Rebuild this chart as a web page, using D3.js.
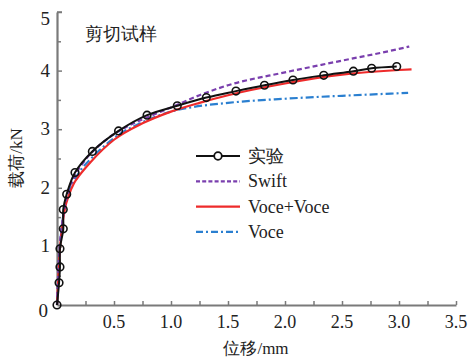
<!DOCTYPE html>
<html>
<head>
<meta charset="utf-8">
<script src="https://cdn.jsdelivr.net/npm/d3@7"></script>
<style>
  #chart text { font-family: "Liberation Serif", "Times New Roman", serif !important; }
</style>
</head>
<body style="margin:0;background:#fff">
<svg id="chart" width="469" height="359" style="display:block"></svg>
<script>
// Shear specimen: measured load–displacement vs. three hardening-law fits
const title = "剪切试样";
const xLabel = "位移/mm";
const yLabel = "载荷/kN";
const xTicks = [0.5, 1.0, 1.5, 2.0, 2.5, 3.0, 3.5];
const yTicks = [0, 1, 2, 3, 4, 5];

// Measured (实验) points: displacement (mm), load (kN)
const expX = [0, 0.018, 0.026, 0.026, 0.055, 0.055, 0.085, 0.158, 0.31, 0.54, 0.79, 1.055, 1.31, 1.57, 1.82, 2.07, 2.34, 2.60, 2.76, 2.98];
const expY = [0, 0.38, 0.65, 0.96, 1.30, 1.63, 1.89, 2.26, 2.62, 2.97, 3.24, 3.40, 3.54, 3.65, 3.75, 3.84, 3.92, 3.99, 4.04, 4.07];

// Swift fit
const swiftX = [0, 0.01, 0.02, 0.04, 0.07, 0.1, 0.15, 0.25, 0.4, 0.6, 0.8, 1.0, 1.25, 1.5, 2.0, 2.5, 3.0, 3.09];
const swiftY = [0, 0.5, 0.9, 1.3, 1.7, 1.95, 2.18, 2.48, 2.77, 3.03, 3.21, 3.37, 3.58, 3.75, 3.97, 4.17, 4.37, 4.41];

// Voce+Voce fit
const vvX = [0, 0.01, 0.02, 0.04, 0.07, 0.1, 0.15, 0.2, 0.3, 0.5, 0.75, 1.0, 1.25, 1.5, 2.0, 2.5, 3.0, 3.11];
const vvY = [0, 0.4, 0.8, 1.25, 1.65, 1.85, 2.08, 2.22, 2.45, 2.82, 3.1, 3.3, 3.45, 3.58, 3.78, 3.93, 4.01, 4.02];

// Voce fit
const voceX = [0, 0.01, 0.02, 0.04, 0.07, 0.1, 0.15, 0.2, 0.3, 0.5, 0.75, 1.0, 1.2, 1.5, 2.0, 2.5, 3.08];
const voceY = [0, 0.45, 0.85, 1.3, 1.7, 1.92, 2.12, 2.28, 2.5, 2.85, 3.12, 3.3, 3.38, 3.45, 3.52, 3.57, 3.62];

const legendNames = ["实验", "Swift", "Voce+Voce", "Voce"];

const TEXT = "#222";

const svg = d3.select("#chart");
const x = d3.scaleLinear().domain([0, 3.5]).range([57, 456]);
const y = d3.scaleLinear().domain([0, 5]).range([305, 12]);

const axisColor = "#7a7a7a";

function styleText(sel) {
  return sel.style("font-family", "\"Liberation Serif\", \"Times New Roman\", serif", "important").attr("fill", TEXT);
}

// x axis with inward ticks, minor ticks every 0.25
const gx = svg.append("g").attr("transform", `translate(0,${y(0)})`);
gx.call(d3.axisBottom(x).tickValues(d3.range(0.25, 3.51, 0.25)).tickSize(-4).tickFormat("").tickSizeOuter(0));
gx.attr("font-family", null).attr("font-size", null);
gx.select(".domain").attr("stroke", axisColor).attr("stroke-width", 2.2);
gx.selectAll(".tick line").attr("stroke", axisColor).attr("stroke-width", 1.5);
gx.selectAll(".tick text").remove();

// y axis with inward ticks, minor ticks every 0.5
const gy = svg.append("g").attr("transform", `translate(${x(0)},0)`);
gy.call(d3.axisLeft(y).tickValues(d3.range(0.5, 5.01, 0.5)).tickSize(-4).tickFormat("").tickSizeOuter(0));
gy.attr("font-family", null).attr("font-size", null);
gy.select(".domain").attr("stroke", axisColor).attr("stroke-width", 2.2);
gy.selectAll(".tick line").attr("stroke", axisColor).attr("stroke-width", 1.5)
  .attr("x2", d => (d % 1 === 0 ? 5 : 4));
gy.selectAll(".tick text").remove();
svg.append("line").attr("x1", x(0)).attr("x2", x(0) + 5).attr("y1", y(5)).attr("y2", y(5))
  .attr("stroke", axisColor).attr("stroke-width", 1.5);

const texts = svg.append("g").attr("class", "labels");

texts.selectAll("text.xl").data(xTicks).join("text")
  .attr("class", "xl")
  .attr("x", d => x(d)).attr("y", 328)
  .attr("text-anchor", "middle").attr("font-size", 18)
  .text(d => d.toFixed(1))
  .call(styleText);

texts.selectAll("text.yl").data(yTicks).join("text")
  .attr("class", "yl")
  .attr("x", d => d === 0 ? 48 : 50)
  .attr("y", d => d === 0 ? y(d) + 12 : (d === 5 ? y(d) + 13 : y(d) + 6))
  .attr("text-anchor", "end").attr("font-size", 19)
  .text(d => d)
  .call(styleText);

// axis titles
texts.append("text").attr("x", 256).attr("y", 354).attr("text-anchor", "middle")
  .attr("font-size", 17).text(xLabel).call(styleText);
texts.append("text").attr("transform", "translate(22,158) rotate(-90)")
  .attr("text-anchor", "middle").attr("font-size", 17).text(yLabel).call(styleText);

// panel title
texts.append("text").attr("x", 85).attr("y", 40).attr("font-size", 18).text(title).call(styleText);

const smooth = d3.line().x(d => x(d[0])).y(d => y(d[1])).curve(d3.curveMonotoneX);
const rough = d3.line().x(d => x(d[0])).y(d => y(d[1])).curve(d3.curveCatmullRom.alpha(0.5));
const zip = (a, b) => a.map((v, i) => [v, b[i]]);

const series = [
  { pts: zip(voceX, voceY), color: "#2a7fd0", dash: "8,3,2,3" },
  { pts: zip(vvX, vvY), color: "#ee2b2b", dash: null },
  { pts: zip(swiftX, swiftY), color: "#7a3fae", dash: "5,3" }
];

series.forEach(s => {
  svg.append("path").datum(s.pts)
    .attr("fill", "none").attr("stroke", s.color).attr("stroke-width", 2.2)
    .attr("stroke-dasharray", s.dash).attr("d", smooth);
});

// measured curve with open circle markers
const expPts = zip(expX, expY);
svg.append("path").datum(expPts)
  .attr("fill", "none").attr("stroke", "#111").attr("stroke-width", 2).attr("d", rough);
svg.selectAll("circle.mk").data(expPts).join("circle")
  .attr("class", "mk")
  .attr("cx", d => x(d[0])).attr("cy", d => y(d[1])).attr("r", 3.8)
  .attr("fill", "none").attr("stroke", "#111").attr("stroke-width", 1.6);

// legend
const legend = [
  { name: legendNames[0], color: "#111", dash: null, marker: true },
  { name: legendNames[1], color: "#7a3fae", dash: "4,2.2", marker: false },
  { name: legendNames[2], color: "#ee2b2b", dash: null, marker: false },
  { name: legendNames[3], color: "#2a7fd0", dash: "7,3,2,3", marker: false }
];
const lg = svg.append("g");
legend.forEach((d, i) => {
  const yy = 156 + i * 25.3;
  lg.append("line").attr("x1", 196).attr("x2", 240).attr("y1", yy).attr("y2", yy)
    .attr("stroke", d.color).attr("stroke-width", 2.2).attr("stroke-dasharray", d.dash);
  if (d.marker) {
    lg.append("circle").attr("cx", 218).attr("cy", yy).attr("r", 3.8)
      .attr("fill", "#fff").attr("stroke", d.color).attr("stroke-width", 1.8);
  }
  lg.append("text").attr("x", 248).attr("y", yy + 6).attr("font-size", 18).text(d.name).call(styleText);
});
</script>
</body>
</html>
